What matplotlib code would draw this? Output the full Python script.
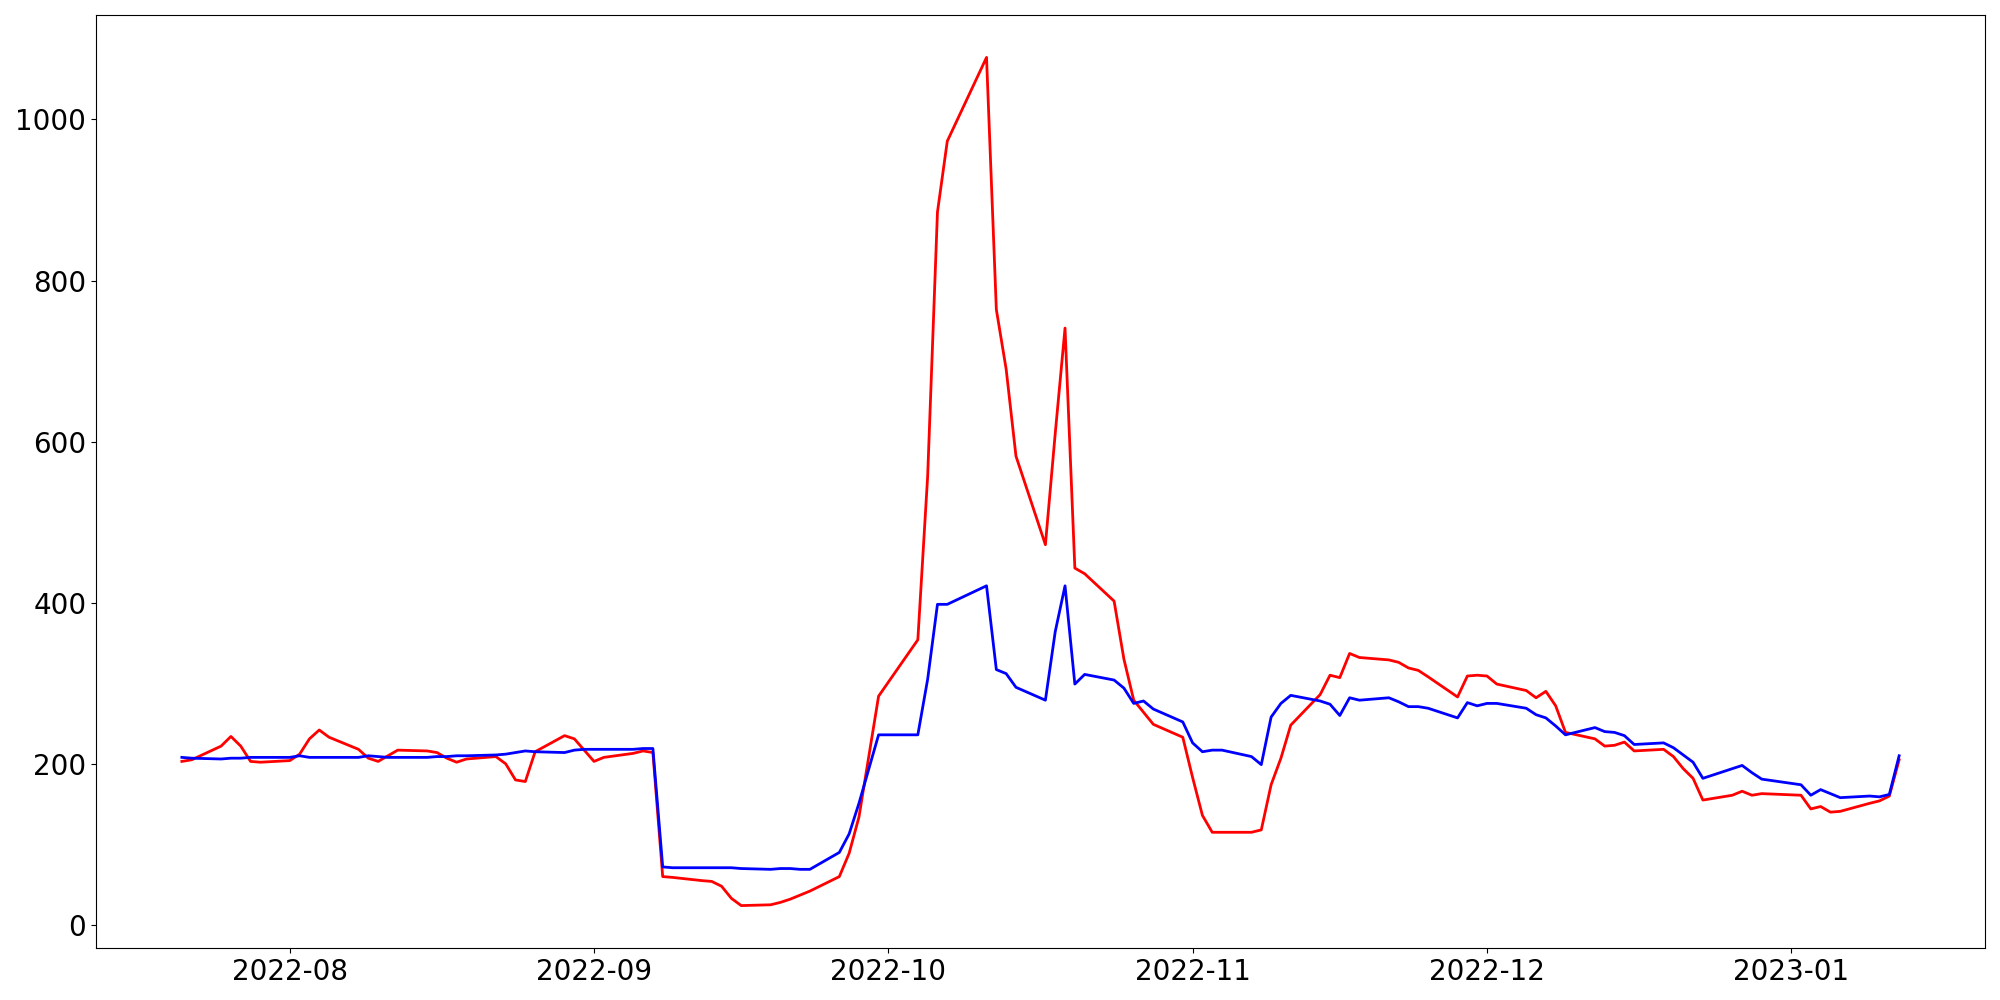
import pandas as pd
import matplotlib
matplotlib.use("Agg")
import matplotlib.pyplot as plt

# trading days
DATES = [
    "2022-07-21", "2022-07-22", "2022-07-25", "2022-07-26", "2022-07-27", "2022-07-28", "2022-07-29",
    "2022-08-01", "2022-08-02", "2022-08-03", "2022-08-04", "2022-08-05",
    "2022-08-08", "2022-08-09", "2022-08-10", "2022-08-11", "2022-08-12",
    "2022-08-15", "2022-08-16", "2022-08-17", "2022-08-18", "2022-08-19",
    "2022-08-22", "2022-08-23", "2022-08-24", "2022-08-25", "2022-08-26",
    "2022-08-29", "2022-08-30", "2022-08-31", "2022-09-01", "2022-09-02",
    "2022-09-05", "2022-09-06", "2022-09-07", "2022-09-08", "2022-09-09",
    "2022-09-12", "2022-09-13", "2022-09-14", "2022-09-15", "2022-09-16",
    "2022-09-19", "2022-09-20", "2022-09-21", "2022-09-22", "2022-09-23",
    "2022-09-26", "2022-09-27", "2022-09-28", "2022-09-30",
    "2022-10-04", "2022-10-05", "2022-10-06", "2022-10-07",
    "2022-10-11", "2022-10-12", "2022-10-13", "2022-10-14",
    "2022-10-17", "2022-10-18", "2022-10-19", "2022-10-20", "2022-10-21",
    "2022-10-24", "2022-10-25", "2022-10-26", "2022-10-27", "2022-10-28",
    "2022-10-31", "2022-11-01", "2022-11-02", "2022-11-03", "2022-11-04",
    "2022-11-07", "2022-11-08", "2022-11-09", "2022-11-10", "2022-11-11",
    "2022-11-14", "2022-11-15", "2022-11-16", "2022-11-17", "2022-11-18",
    "2022-11-21", "2022-11-22", "2022-11-23", "2022-11-24", "2022-11-25",
    "2022-11-28", "2022-11-29", "2022-11-30", "2022-12-01", "2022-12-02",
    "2022-12-05", "2022-12-06", "2022-12-07", "2022-12-08", "2022-12-09",
    "2022-12-12", "2022-12-13", "2022-12-14", "2022-12-15", "2022-12-16",
    "2022-12-19", "2022-12-20", "2022-12-21", "2022-12-22", "2022-12-23",
    "2022-12-26", "2022-12-27", "2022-12-28", "2022-12-29",
    "2023-01-02", "2023-01-03", "2023-01-04", "2023-01-05", "2023-01-06",
    "2023-01-09", "2023-01-10", "2023-01-11", "2023-01-12",
]

RED = [
    203, 205, 222, 234, 222, 203, 202,
    204, 212, 231, 242, 233,
    218, 207, 203, 210, 217,
    216, 214, 207, 202, 206,
    209, 200, 180, 178, 215,
    235, 231, 217, 203, 208,
    213, 216, 214, 60, 59,
    55, 54, 48, 33, 24,
    25, 28, 32, 37, 42,
    60, 89, 134, 284,
    354, 557, 885, 973,
    1077, 764, 690, 582,
    472, 610, 741, 443, 436,
    402, 330, 279, 264, 249,
    233, 183, 136, 115, 115,
    115, 118, 174, 207, 248,
    286, 310, 307, 337, 332,
    329, 326, 319, 316, 308,
    283, 309, 310, 309, 299,
    291, 282, 290, 272, 239,
    231, 222, 223, 227, 216,
    218, 209, 194, 182, 155,
    161, 166, 161, 163,
    161, 144, 147, 140, 141,
    151, 154, 160, 205,
]

BLUE = [
    208, 207, 206, 207, 207, 208, 208,
    208, 210, 208, 208, 208,
    208, 210, 209, 208, 208,
    208, 209, 209, 210, 210,
    211, 212, 214, 216, 215,
    214, 217, 218, 218, 218,
    218, 219, 219, 72, 71,
    71, 71, 71, 71, 70,
    69, 70, 70, 69, 69,
    90, 113, 151, 236,
    236, 305, 398, 398,
    421, 317, 312, 295,
    279, 364, 421, 299, 311,
    304, 294, 275, 278, 268,
    252, 226, 215, 217, 217,
    209, 199, 258, 275, 285,
    278, 274, 260, 282, 279,
    282, 277, 271, 271, 269,
    257, 276, 272, 275, 275,
    269, 261, 257, 247, 236,
    245, 240, 239, 235, 224,
    226, 220, 211, 202, 182,
    194, 198, 189, 181,
    174, 161, 168, 163, 158,
    160, 159, 162, 210,
]

dates = pd.to_datetime(DATES)

fig = plt.figure(figsize=(20, 10), dpi=100)
ax = fig.add_axes([0.048, 0.052, 0.9445, 0.933])
ax.plot(dates, RED, color='red', lw=2)
ax.plot(dates, BLUE, color='blue', lw=2)
ax.tick_params(labelsize=20)
fig.savefig("out.png", dpi=100)
